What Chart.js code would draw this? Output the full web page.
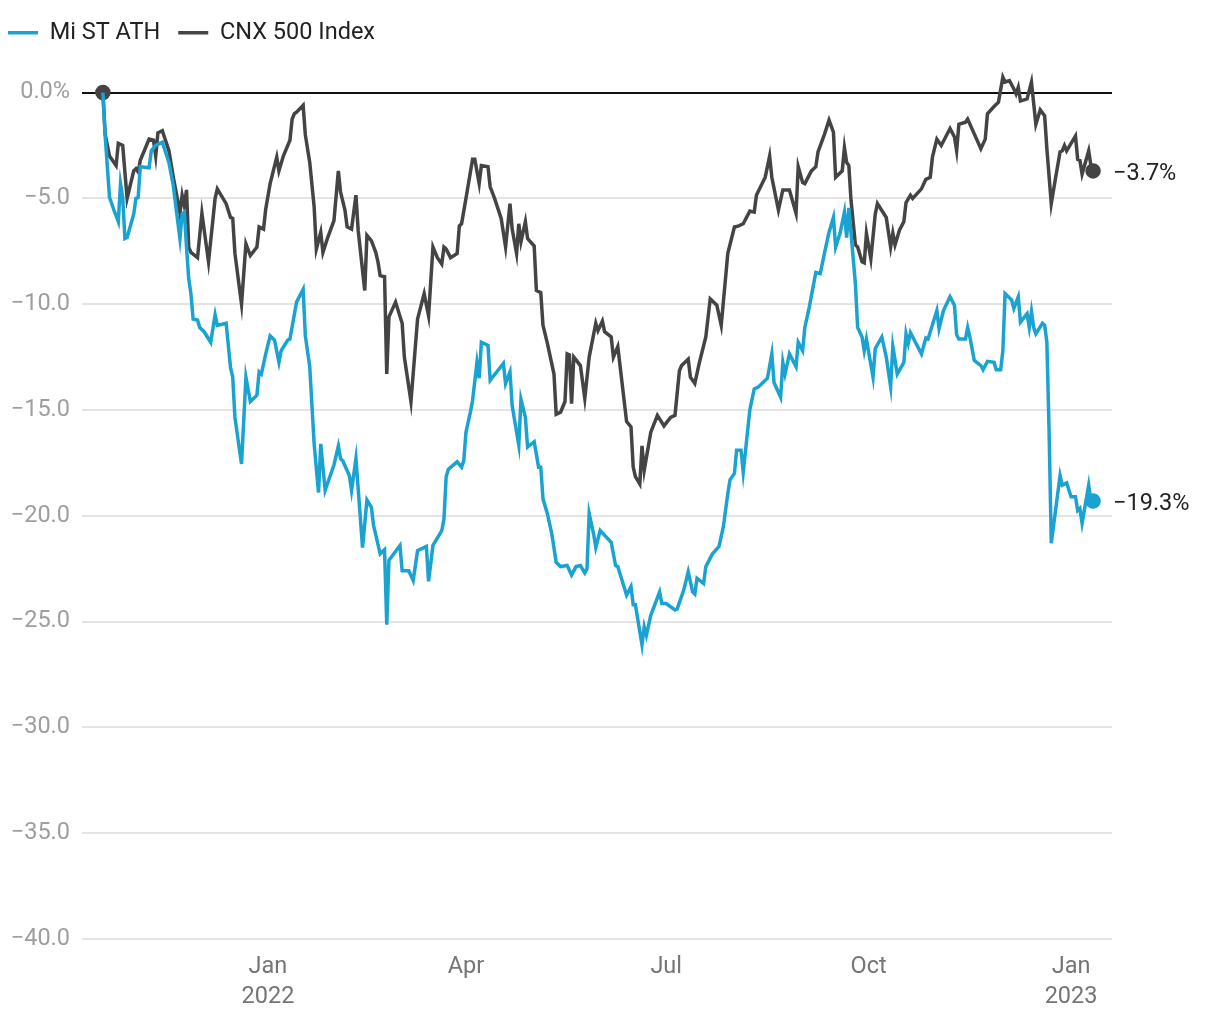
<!DOCTYPE html>
<html>
<head>
<meta charset="utf-8">
<script src="https://cdn.jsdelivr.net/npm/chart.js@4.4.1/dist/chart.umd.min.js"></script>
<style>
  html, body { margin: 0; padding: 0; background: #fff; }
  #wrap { width: 1220px; height: 1020px; position: relative; }
</style>
</head>
<body>
<div id="wrap"><canvas id="chart"></canvas></div>
<script>
// Days are counted from 1 Jan 2022, values are % change from the start
var seriesNames = ["Mi ST ATH", "CNX 500 Index"];

var mistDays = [-75, -74, -72, -70, -68, -67, -66, -65, -64, -61, -60, -59, -58, -54, -53, -51, -48, -45, -43, -42,
    -40, -39, -38, -37, -36, -35, -34, -32, -31, -29, -26, -24, -23, -19, -17, -16, -15, -12, -10, -8,
    -5, -4, -3, -1, 1, 3, 5, 6, 9, 10, 13, 16, 17, 19, 21, 23, 24, 26, 30, 32,
    33, 34, 37, 38, 40, 43, 45, 47, 48, 51, 53, 54, 55, 60, 61, 64, 66, 68, 72, 73,
    75, 79, 80, 81, 82, 86, 88, 89, 90, 92, 93, 95, 96, 97, 100, 101, 107, 108, 110, 111,
    114, 115, 117, 118, 121, 123, 124, 125, 127, 129, 131, 133, 136, 138, 140, 142, 144, 145, 146, 148,
    149, 151, 156, 158, 159, 163, 165, 166, 167, 170, 171, 172, 174, 176, 178, 179, 181, 185, 186, 189,
    191, 193, 194, 195, 198, 199, 201, 202, 205, 207, 209, 210, 212, 213, 215, 216, 219, 221, 223, 227,
    229, 230, 233, 234, 235, 237, 240, 241, 243, 244, 246, 248, 249, 251, 253, 255, 257, 258, 260, 262,
    263, 264, 265, 267, 268, 270, 271, 272, 275, 276, 279, 281, 283, 284, 286, 289, 290, 291, 292, 297,
    299, 300, 304, 305, 307, 310, 312, 313, 314, 317, 318, 319, 321, 324, 325, 327, 330, 331, 333, 334,
    335, 338, 339, 341, 342, 345, 346, 347, 348, 349, 352, 353, 354, 355, 356, 360, 361, 363, 365, 367,
    368, 369, 370, 373, 374, 375];
var mistValues = [0, -2.0, -4.95, -5.55, -6.1, -4.3, -4.95, -6.9, -6.85, -5.75, -5.0, -4.97, -3.5, -3.55, -2.75, -2.5, -2.35, -3.3, -4.4, -5.25,
    -6.9, -5.75, -5.65, -7.3, -8.8, -9.5, -10.7, -10.75, -11.1, -11.3, -11.8, -10.5, -11.0, -10.9, -13.0, -13.45, -15.35, -17.55, -13.45, -14.6,
    -14.3, -13.2, -13.3, -12.35, -11.5, -11.7, -12.75, -12.2, -11.7, -11.65, -9.9, -9.3, -11.5, -12.95, -16.6, -18.9, -16.6, -18.8, -17.6, -16.7,
    -17.3, -17.4, -18.1, -18.8, -17.3, -21.5, -19.25, -19.6, -20.45, -21.8, -21.6, -25.15, -22.1, -21.4, -22.6, -22.6, -23.05, -21.65, -21.45, -23.1,
    -21.4, -20.7, -20.15, -18.15, -17.8, -17.45, -17.7, -17.4, -16.05, -15.1, -14.55, -12.75, -13.5, -11.8, -11.95, -13.6, -12.8, -13.75, -13.2, -14.8,
    -16.65, -14.5, -15.35, -16.75, -16.5, -17.7, -17.7, -19.2, -19.9, -20.85, -22.2, -22.4, -22.35, -22.8, -22.4, -22.35, -22.7, -22.5, -19.9, -20.85,
    -21.5, -20.7, -21.25, -22.35, -22.4, -23.75, -23.35, -24.2, -24.2, -26.1, -25.25, -25.65, -24.7, -24.15, -23.6, -24.15, -24.15, -24.45, -24.4, -23.5,
    -22.65, -23.6, -23.7, -22.95, -23.2, -22.4, -22.0, -21.8, -21.45, -20.5, -18.95, -18.3, -18.0, -16.9, -16.9, -17.95, -15.0, -14.0, -13.9, -13.5,
    -12.35, -13.7, -14.4, -12.75, -13.3, -12.35, -12.95, -11.8, -12.2, -11.1, -10.15, -9.05, -8.5, -8.55, -7.55, -6.6, -5.9, -7.3, -6.65, -5.65,
    -6.85, -5.45, -6.65, -9.05, -11.1, -11.55, -12.2, -11.65, -13.45, -12.1, -11.55, -12.5, -13.9, -12.0, -13.3, -12.75, -11.4, -11.85, -11.35, -12.35,
    -11.6, -11.65, -10.3, -11.15, -10.3, -9.65, -10.05, -11.45, -11.65, -11.65, -11.1, -11.55, -12.65, -12.9, -13.1, -12.7, -12.75, -13.1, -13.1, -12.2,
    -9.5, -9.8, -10.2, -9.65, -10.85, -10.45, -11.1, -10.35, -11.1, -11.4, -10.9, -11.0, -11.8, -15.95, -21.3, -18.1, -18.55, -18.45, -19.1, -19.1,
    -19.75, -19.65, -20.35, -18.55, -19.3, -19.3];

var cnxDays = [-75, -74, -72, -69, -68, -66, -64, -61, -60, -59, -58, -54, -52, -51, -50, -48, -45, -43, -41, -40,
    -39, -38, -37, -36, -35, -32, -30, -27, -24, -23, -19, -17, -16, -15, -12, -10, -8, -5, -4, -2,
    -1, 1, 4, 5, 7, 10, 11, 12, 13, 16, 17, 19, 21, 22, 24, 25, 27, 30, 32, 33,
    35, 36, 38, 40, 41, 44, 45, 47, 49, 50, 51, 53, 54, 55, 58, 61, 62, 65, 68, 71,
    73, 75, 77, 79, 80, 81, 83, 86, 87, 88, 90, 93, 94, 96, 97, 100, 101, 103, 106, 108,
    110, 111, 113, 114, 115, 117, 118, 121, 122, 124, 125, 127, 130, 131, 133, 135, 136, 137, 138, 139,
    142, 144, 146, 149, 150, 152, 153, 156, 157, 159, 163, 165, 166, 167, 169, 170, 171, 174, 177, 180,
    183, 185, 187, 188, 191, 192, 194, 196, 199, 201, 204, 206, 209, 212, 214, 216, 219, 221, 222, 226,
    228, 229, 232, 234, 237, 240, 241, 243, 244, 247, 249, 250, 253, 255, 257, 258, 261, 262, 263, 264,
    265, 267, 268, 270, 271, 272, 274, 276, 277, 281, 283, 284, 285, 287, 289, 290, 292, 293, 297, 299,
    301, 302, 304, 306, 310, 312, 313, 314, 317, 318, 321, 324, 326, 327, 330, 332, 334, 335, 337, 339,
    340, 341, 342, 345, 347, 349, 351, 353, 354, 356, 358, 360, 361, 362, 363, 367, 368, 369, 370, 373,
    374, 375];
var cnxValues = [0, -1.95, -3.0, -3.45, -2.4, -2.5, -5.0, -3.7, -3.6, -3.75, -3.2, -2.2, -2.25, -3.0, -1.9, -1.8, -2.75, -4.0, -5.1, -5.7,
    -4.85, -5.35, -4.6, -7.3, -7.55, -7.8, -5.7, -8.0, -5.0, -4.55, -5.25, -5.9, -5.95, -7.6, -10.0, -7.15, -7.7, -7.3, -6.35, -6.45,
    -5.5, -4.3, -3.05, -3.7, -3.0, -2.25, -1.25, -1.0, -0.93, -0.6, -2.0, -3.3, -5.4, -7.4, -6.6, -7.55, -6.9, -6.05, -3.7, -4.7,
    -5.55, -6.35, -6.45, -4.85, -6.5, -9.35, -6.75, -7.0, -7.55, -8.0, -8.65, -8.7, -13.3, -10.6, -9.9, -10.9, -12.5, -14.6, -10.7, -9.5,
    -10.55, -7.3, -7.8, -8.1, -7.3, -7.4, -7.8, -7.6, -6.3, -6.2, -5.0, -3.15, -3.15, -4.3, -3.45, -3.5, -4.45, -5.0, -5.95, -7.3,
    -5.25, -6.45, -7.6, -6.2, -7.05, -6.1, -6.9, -7.25, -9.35, -9.45, -11.0, -11.85, -13.3, -15.2, -15.1, -14.6, -12.35, -12.4, -14.7, -12.5,
    -12.9, -14.45, -12.5, -10.9, -11.25, -10.8, -11.3, -11.55, -12.5, -12.0, -15.55, -15.8, -17.7, -18.15, -18.5, -16.7, -17.85, -16.05, -15.25, -15.75,
    -15.35, -15.25, -13.15, -12.9, -12.6, -13.45, -13.75, -12.8, -11.55, -9.75, -10.05, -11.0, -7.6, -6.35, -6.3, -6.2, -5.6, -5.65, -4.85, -4.0,
    -3.0, -4.0, -5.55, -4.6, -4.6, -5.7, -3.5, -4.25, -4.3, -3.7, -3.5, -2.8, -1.95, -1.3, -1.87, -4.0, -3.7, -2.6, -3.3, -3.45,
    -5.1, -7.2, -7.3, -8.0, -8.05, -6.65, -7.85, -5.75, -5.25, -5.9, -7.3, -6.65, -7.2, -6.5, -6.1, -5.2, -4.85, -5.0, -4.55, -4.1,
    -4.0, -3.05, -2.2, -2.5, -1.7, -2.1, -2.75, -1.5, -1.4, -1.25, -1.95, -2.65, -2.2, -1.0, -0.66, -0.45, 0.73, 0.5, 0.57, 0.17,
    -0.06, 0.25, -0.4, -0.3, 0.5, -1.5, -0.82, -1.1, -2.65, -5.25, -4.0, -2.8, -2.75, -2.5, -2.75, -2.05, -3.15, -3.2, -3.85, -2.75,
    -3.45, -3.7];

var tickDays = [0, 90, 181, 273, 365];
var tickLabels = [["Jan", "2022"], ["Apr"], ["Jul"], ["Oct"], ["Jan", "2023"]];
var yTicks = [0, -5, -10, -15, -20, -25, -30, -35, -40];

var blue = "#1aa3d1";
var grey = "#444444";

function toPoints(days, values) {
    return days.map(function (d, i) { return { x: d, y: values[i] }; });
}

// dots at the ends of the lines
function endRadius(len, withStart) {
    return function (ctx) {
        if (ctx.dataIndex === len - 1) return 6;
        if (withStart && ctx.dataIndex === 0) return 6;
        return 0;
    };
}

function fmt(v) {
    if (v === 0) return "0.0%";
    return (v < 0 ? "\u2212" : "") + Math.abs(v).toFixed(1);
}

// label next to the last point of every line
var endLabels = {
    id: "endLabels",
    afterDatasetsDraw: function (chart) {
        var ctx = chart.ctx;
        ctx.save();
        ctx.font = "23.5px Roboto";
        ctx.fillStyle = "#222";
        ctx.textAlign = "left";
        ctx.textBaseline = "middle";
        chart.data.datasets.forEach(function (ds, i) {
            var meta = chart.getDatasetMeta(i);
            var pt = meta.data[meta.data.length - 1];
            var v = ds.data[ds.data.length - 1].y;
            ctx.fillText("\u2212" + Math.abs(v).toFixed(1) + "%", pt.x + 20, pt.y + 3);
        });
        ctx.restore();
    }
};

Chart.defaults.font.family = "Roboto";

new Chart(document.getElementById("chart"), {
    type: "line",
    data: {
        datasets: [{
            label: seriesNames[0],
            data: toPoints(mistDays, mistValues),
            borderColor: blue,
            backgroundColor: blue,
            borderWidth: 3.5,
            pointRadius: endRadius(mistDays.length, false),
            pointHoverRadius: 0,
            tension: 0
        }, {
            label: seriesNames[1],
            data: toPoints(cnxDays, cnxValues),
            borderColor: grey,
            backgroundColor: grey,
            borderWidth: 3.5,
            pointRadius: endRadius(cnxDays.length, true),
            pointHoverRadius: 0,
            tension: 0
        }]
    },
    options: {
        responsive: true,
        maintainAspectRatio: false,
        animation: false,
        layout: { padding: { top: 3, right: 108, bottom: 0, left: -10 } },
        plugins: {
            tooltip: { enabled: false },
            legend: {
                position: "top",
                align: "start",
                labels: {
                    usePointStyle: true,
                    pointStyle: "line",
                    pointStyleWidth: 30,
                    color: "#222",
                    font: { size: 23.5 },
                    padding: 18
                }
            }
        },
        scales: {
            x: {
                type: "linear",
                min: -84.5,
                max: 383.6,
                afterBuildTicks: function (scale) {
                    scale.ticks = tickDays.map(function (d) { return { value: d }; });
                },
                afterFit: function (scale) { scale.height = 81; },
                grid: { display: false },
                border: { display: false },
                ticks: {
                    autoSkip: false,
                    maxRotation: 0,
                    padding: 5,
                    color: "#757575",
                    font: { size: 23.5, lineHeight: 1.28 },
                    callback: function (v) {
                        var i = tickDays.indexOf(v);
                        return i >= 0 ? tickLabels[i] : "";
                    }
                }
            },
            y: {
                min: -40,
                max: 1.8,
                afterBuildTicks: function (scale) {
                    scale.ticks = yTicks.map(function (v) { return { value: v }; });
                },
                afterFit: function (scale) { scale.width = 92; },
                grid: {
                    drawTicks: false,
                    color: function (c) { return c.tick && c.tick.value === 0 ? "#111" : "#e4e4e4"; },
                    lineWidth: 2
                },
                border: { display: false },
                ticks: {
                    padding: 12,
                    color: "#9e9e9e",
                    font: { size: 23.5 },
                    callback: fmt
                }
            }
        }
    },
    plugins: [endLabels]
});
</script>
</body>
</html>
